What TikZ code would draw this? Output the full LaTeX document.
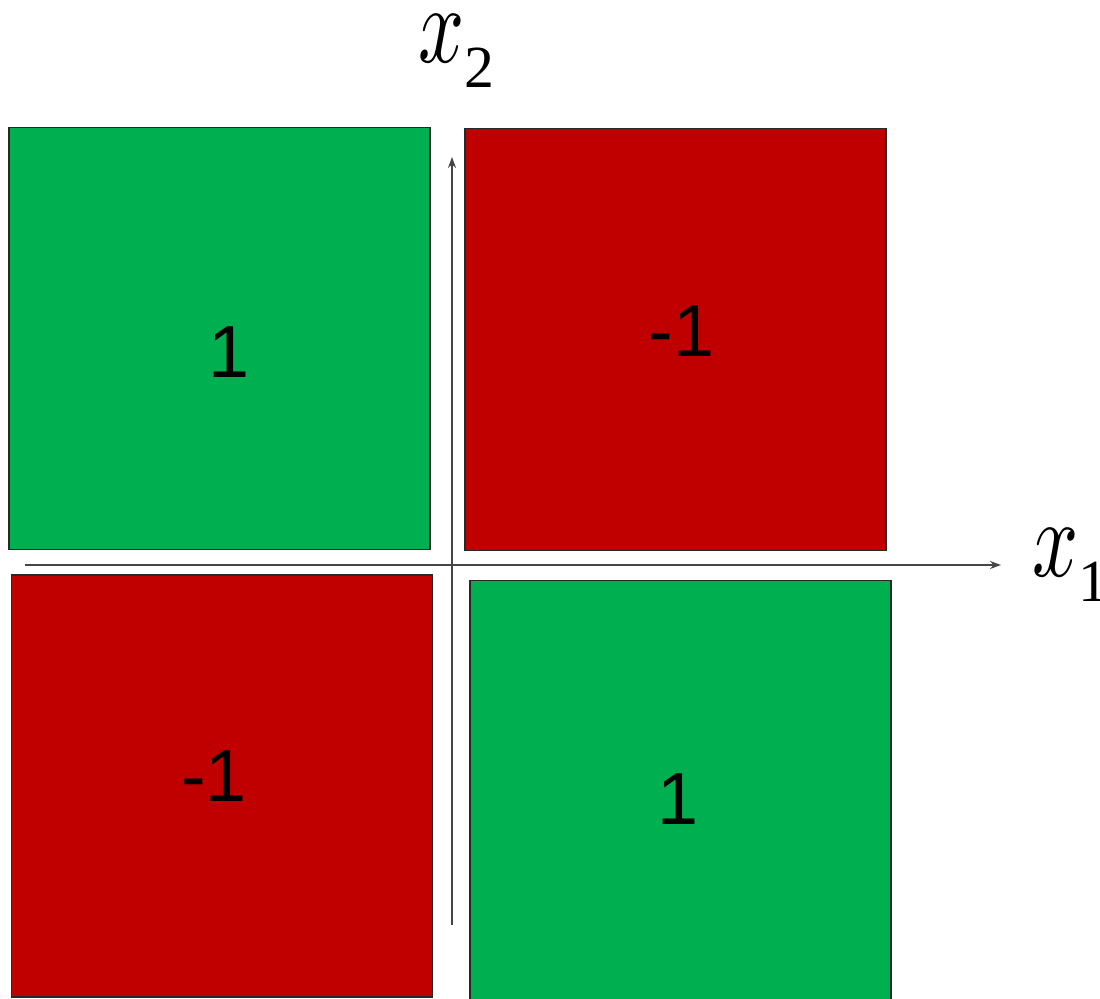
\documentclass[tikz,border=0pt]{standalone}
\usepackage{graphicx}
\usepackage{fontspec}
\setmainfont{Liberation Serif}
\newfontfamily\numfont{Liberation Sans}
\usetikzlibrary{arrows.meta}
\definecolor{PosGreen}{RGB}{0,176,80}
\definecolor{NegRed}{RGB}{192,0,0}
\definecolor{AxisGray}{RGB}{70,70,70}
\definecolor{EdgeGray}{RGB}{40,40,40}
\newcommand{\bigvar}{\scalebox{4.6}[6.3]{\fontsize{10}{12}\selectfont$x$}}
\tikzset{
  qbox/.style={
    draw=EdgeGray,
    line width=0.7pt,
    minimum width=8.42cm,
    minimum height=8.44cm,
    inner sep=0pt
  },
  posbox/.style={qbox,fill=PosGreen},
  negbox/.style={qbox,fill=NegRed},
  valtext/.style={inner sep=0pt,font=\numfont\fontsize{42}{42}\selectfont},
  axis/.style={-{Stealth[length=2.2mm,width=1.6mm]},line width=1.1pt,draw=AxisGray},
  axlabel/.style={anchor=base west,inner sep=0pt,font=\fontsize{34}{34}\selectfont}
}

\begin{document}
\begin{tikzpicture}[x=0.02cm,y=-0.02cm]
  \useasboundingbox (0,0) rectangle (1100,999);
  % four quadrants
  \node[posbox] (tl) at (219.5,338.5) {};
  \node[negbox] (tr) at (675.5,339.5) {};
  \node[negbox] (bl) at (222,786) {};
  \node[posbox] (br) at (680.5,791.5) {};

  \node[valtext] (vtl) at ([shift={(10,14)}]tl.center) {1};
  \node[valtext] (vtr) at ([shift={(6,-8)}]tr.center) {-1};
  \node[valtext] (vbl) at ([shift={(-8,-10)}]bl.center) {-1};
  \node[valtext] (vbr) at ([shift={(-2,8)}]br.center) {1};

  % axes
  \coordinate (h0) at (25,565);
  \coordinate (h1) at (1001,565);
  \coordinate (v0) at (452,925);
  \coordinate (v1) at (452,157);
  \draw[axis] (h0) -- (h1);
  \draw[axis] (v0) -- (v1);

  \node[axlabel] (x2lab) at (418,63) {\bigvar\raisebox{-0.5cm}{2}};
  \node[axlabel] (x1lab) at (1032,577) {\bigvar\raisebox{-0.5cm}{1}};
\end{tikzpicture}
\end{document}
